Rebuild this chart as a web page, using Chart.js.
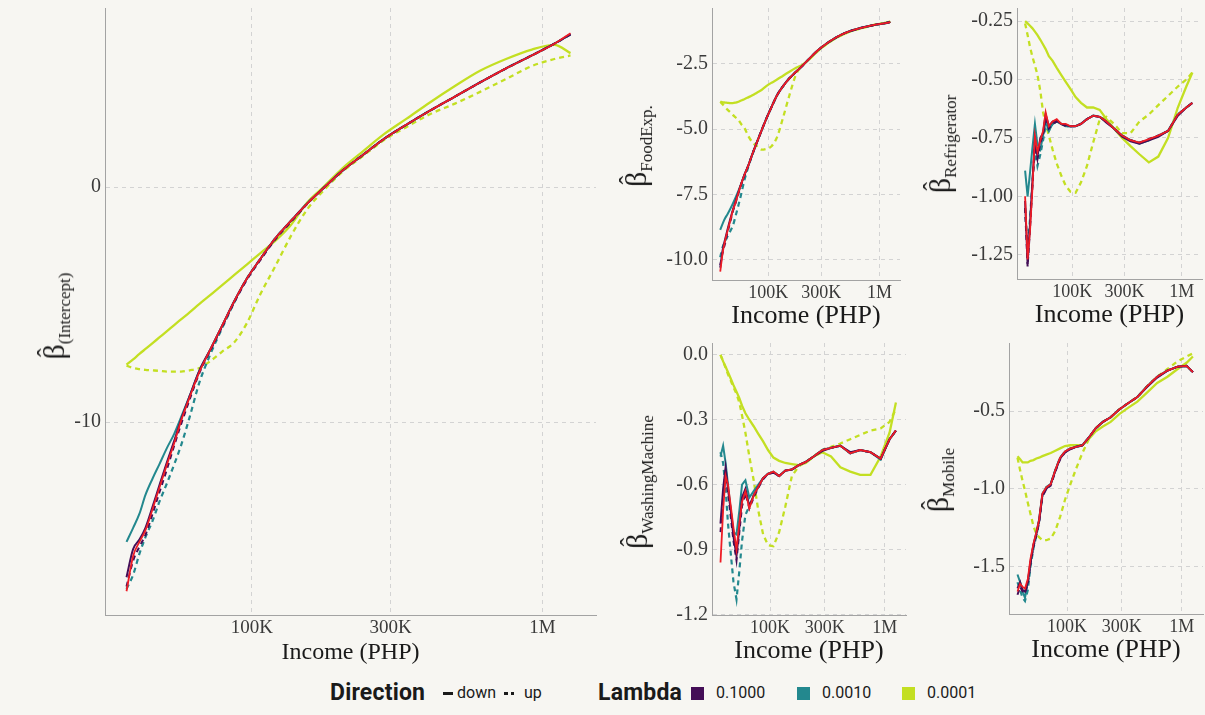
<!DOCTYPE html>
<html><head><meta charset="utf-8">
<script src="https://cdn.jsdelivr.net/npm/chart.js@4.4.1/dist/chart.umd.min.js"></script>
<style>
html,body{margin:0;padding:0;background:#f7f6f2;}
#wrap{position:relative;width:1205px;height:715px;overflow:hidden;background:#f7f6f2;}
canvas{position:absolute;}
.yt{position:absolute;white-space:nowrap;font-family:"Liberation Serif","DejaVu Serif",serif;color:#1a1a1a;transform:translate(-50%,-50%) rotate(-90deg);line-height:1;}
.yt .b{font-size:30px;position:relative;display:inline-block;}
.yt .hat{position:absolute;left:0.1em;top:-0.2em;font-style:normal;font-size:0.85em;}
.yt sub{font-size:17px;vertical-align:-0.35em;}
.lg{position:absolute;top:681px;height:24px;line-height:24px;font-family:Roboto,"Liberation Sans",sans-serif;color:#1a1a1a;white-space:nowrap;}
.lt{font-weight:bold;font-size:23px;letter-spacing:0.2px;}
.ll{font-size:16px;}
.sq{position:absolute;top:687px;width:13px;height:13px;}
.key{position:absolute;top:692px;height:3px;}
</style>
</head><body>
<div id="wrap">
  <canvas id="cBig"></canvas>
  <canvas id="cFood"></canvas>
  <canvas id="cFridge"></canvas>
  <canvas id="cWash"></canvas>
  <canvas id="cMobile"></canvas>

  <div class="yt" style="left:56px;top:316px"><span class="b">β<i class="hat">ˆ</i></span><sub>(Intercept)</sub></div>
  <div class="yt" style="left:638px;top:146px"><span class="b">β<i class="hat">ˆ</i></span><sub>FoodExp.</sub></div>
  <div class="yt" style="left:942px;top:144px"><span class="b">β<i class="hat">ˆ</i></span><sub>Refrigerator</sub></div>
  <div class="yt" style="left:639px;top:482px"><span class="b">β<i class="hat">ˆ</i></span><sub>WashingMachine</sub></div>
  <div class="yt" style="left:940px;top:480px"><span class="b">β<i class="hat">ˆ</i></span><sub>Mobile</sub></div>

  <div class="lg lt" style="left:330px">Direction</div>
  <div class="key" style="left:443px;width:10px;background:#1a1a1a"></div>
  <div class="lg ll" id="lgDown" style="left:457px"></div>
  <div class="key" style="left:504px;width:4px;background:#1a1a1a"></div>
  <div class="key" style="left:511px;width:3px;background:#1a1a1a"></div>
  <div class="lg ll" id="lgUp" style="left:524px"></div>
  <div class="lg lt" style="left:598px">Lambda</div>
  <div class="sq" style="left:691px;background:#440e57"></div>
  <div class="lg ll" id="lgL0" style="left:716px"></div>
  <div class="sq" style="left:797px;background:#23888e"></div>
  <div class="lg ll" id="lgL1" style="left:822px"></div>
  <div class="sq" style="left:902px;background:#c3df22"></div>
  <div class="lg ll" id="lgL2" style="left:927px"></div>
</div>
<script>
// ---------- shared data ----------
const income = [37000, 39000, 41000, 43000, 45500, 48000, 51000, 54000, 57000, 61000, 66000, 72000, 79000, 87000, 96000, 107000, 120000, 136000, 155000, 178000, 205000, 240000, 285000, 340000, 410000, 500000, 610000, 750000, 920000, 1100000, 1250000];
const xTickValues = [100000, 300000, 1000000];
const xTickLabels = ['100K', '300K', '1M'];
const lambdaLabels = ['0.1000', '0.0010', '0.0001'];
const directionLabels = ['down', 'up'];

// ---------- (Intercept) ----------
const interceptYTicks = [0, -10];
const interceptYLabels = ['0', '-10'];
const interceptRed = [-17.2, -15.7, -15.1, -14.6, -13.7, -12.8, -11.8, -10.9, -9.95, -8.95, -7.85, -6.9, -5.9, -4.85, -3.9, -3.05, -2.2, -1.45, -0.7, 0.0, 0.7, 1.35, 2.05, 2.65, 3.25, 3.85, 4.45, 5.05, 5.6, 6.1, 6.55];
const interceptL1Down = [-16.6, -15.4, -15.0, -14.5, -13.6, -12.7, -11.7, -10.8, -9.9, -8.9, -7.8, -6.9, -5.9, -4.85, -3.9, -3.05, -2.2, -1.45, -0.7, 0.0, 0.7, 1.35, 2.05, 2.65, 3.25, 3.85, 4.45, 5.05, 5.6, 6.1, 6.5];
const interceptL1Up = [-17.0, -15.9, -15.3, -14.8, -13.9, -13.0, -12.0, -11.0, -10.1, -9.05, -7.9, -6.95, -5.95, -4.9, -3.95, -3.1, -2.25, -1.5, -0.72, 0.0, 0.7, 1.35, 2.05, 2.65, 3.25, 3.85, 4.45, 5.05, 5.6, 6.1, 6.5];
const interceptL2Down = [-15.1, -14.5, -13.9, -13.1, -12.4, -11.8, -11.1, -10.5, -9.8, -8.9, -7.8, -6.9, -5.9, -4.85, -3.9, -3.05, -2.2, -1.45, -0.7, 0.0, 0.7, 1.35, 2.05, 2.65, 3.25, 3.85, 4.45, 5.05, 5.6, 6.1, 6.5];
const interceptL2Up = [-17.1, -16.5, -15.6, -14.9, -14.2, -13.4, -12.6, -11.8, -11.0, -9.8, -8.3, -7.1, -6.0, -4.9, -3.9, -3.05, -2.2, -1.45, -0.7, 0.0, 0.7, 1.35, 2.05, 2.65, 3.25, 3.85, 4.45, 5.05, 5.6, 6.1, 6.5];
const interceptL3Down = [-7.56, -7.33, -7.1, -6.89, -6.64, -6.4, -6.13, -5.87, -5.63, -5.33, -4.97, -4.59, -4.17, -3.74, -3.3, -2.81, -2.3, -1.62, -0.66, 0.05, 0.8, 1.5, 2.25, 2.9, 3.6, 4.3, 4.95, 5.45, 5.85, 6.05, 5.7];
const interceptL3Up = [-7.6, -7.7, -7.75, -7.78, -7.8, -7.82, -7.85, -7.85, -7.85, -7.8, -7.7, -7.4, -7.0, -6.6, -5.8, -4.55, -3.4, -2.1, -0.95, -0.1, 0.65, 1.3, 2.0, 2.55, 3.1, 3.55, 4.05, 4.6, 5.15, 5.45, 5.6];

// ---------- FoodExp ----------
const foodYTicks = [-2.5, -5.0, -7.5, -10.0];
const foodYLabels = ['-2.5', '-5.0', '-7.5', '-10.0'];
const foodRed = [-10.45, -9.7, -9.25, -8.9, -8.5, -8.12, -7.78, -7.42, -7.1, -6.75, -6.4, -5.95, -5.5, -5.05, -4.6, -4.15, -3.7, -3.35, -3.05, -2.8, -2.55, -2.25, -1.95, -1.7, -1.48, -1.3, -1.18, -1.08, -1.0, -0.95, -0.9];
const foodL1Down = [-10.3, -9.6, -9.2, -8.85, -8.45, -8.1, -7.75, -7.4, -7.1, -6.75, -6.4, -5.95, -5.5, -5.05, -4.6, -4.15, -3.7, -3.35, -3.05, -2.8, -2.55, -2.25, -1.95, -1.7, -1.48, -1.3, -1.18, -1.08, -1.0, -0.95, -0.9];
const foodL1Up = [-10.2, -9.7, -9.35, -8.95, -8.55, -8.15, -7.8, -7.45, -7.12, -6.78, -6.4, -5.95, -5.5, -5.05, -4.6, -4.15, -3.7, -3.35, -3.05, -2.8, -2.55, -2.25, -1.95, -1.7, -1.48, -1.3, -1.18, -1.08, -1.0, -0.95, -0.9];
const foodL2Down = [-8.85, -8.6, -8.4, -8.25, -8.05, -7.85, -7.6, -7.35, -7.1, -6.75, -6.4, -5.95, -5.5, -5.05, -4.6, -4.15, -3.7, -3.35, -3.05, -2.8, -2.55, -2.25, -1.95, -1.7, -1.48, -1.3, -1.18, -1.08, -1.0, -0.95, -0.9];
const foodL2Up = [-9.9, -9.5, -9.3, -9.1, -8.9, -8.7, -8.3, -7.9, -7.5, -6.95, -6.45, -5.97, -5.5, -5.05, -4.6, -4.15, -3.7, -3.35, -3.05, -2.8, -2.55, -2.25, -1.95, -1.7, -1.48, -1.3, -1.18, -1.08, -1.0, -0.95, -0.9];
const foodL3Down = [-3.95, -3.97, -3.98, -3.99, -4.0, -4.0, -3.98, -3.95, -3.9, -3.85, -3.78, -3.7, -3.6, -3.5, -3.35, -3.22, -3.1, -2.95, -2.8, -2.65, -2.52, -2.28, -1.97, -1.72, -1.5, -1.32, -1.19, -1.09, -1.0, -0.94, -0.88];
const foodL3Up = [-3.95, -4.05, -4.15, -4.25, -4.35, -4.45, -4.55, -4.65, -4.8, -4.95, -5.25, -5.5, -5.65, -5.78, -5.75, -5.65, -5.3, -4.55, -3.7, -2.9, -2.55, -2.28, -1.97, -1.72, -1.5, -1.32, -1.19, -1.09, -1.0, -0.94, -0.88];

// ---------- Refrigerator ----------
const fridgeYTicks = [-0.25, -0.5, -0.75, -1.0, -1.25];
const fridgeYLabels = ['-0.25', '-0.50', '-0.75', '-1.00', '-1.25'];
const fridgeRed = [-1.0, -1.27, -1.15, -0.98, -0.74, -0.81, -0.76, -0.72, -0.64, -0.70, -0.68, -0.67, -0.69, -0.69, -0.70, -0.70, -0.69, -0.67, -0.655, -0.66, -0.68, -0.71, -0.74, -0.76, -0.77, -0.755, -0.74, -0.72, -0.65, -0.62, -0.60];
const fridgeL1Down = [-1.02, -1.29, -1.12, -0.95, -0.76, -0.83, -0.75, -0.73, -0.65, -0.70, -0.68, -0.675, -0.69, -0.695, -0.70, -0.70, -0.69, -0.67, -0.655, -0.66, -0.685, -0.71, -0.745, -0.765, -0.775, -0.76, -0.745, -0.72, -0.655, -0.62, -0.60];
const fridgeL1Up = [-1.05, -1.3, -1.14, -0.97, -0.77, -0.84, -0.77, -0.74, -0.66, -0.71, -0.69, -0.68, -0.69, -0.70, -0.70, -0.70, -0.69, -0.67, -0.655, -0.66, -0.68, -0.71, -0.74, -0.76, -0.77, -0.755, -0.74, -0.72, -0.65, -0.62, -0.60];
const fridgeL2Down = [-0.89, -1.0, -0.9, -0.8, -0.69, -0.78, -0.80, -0.74, -0.68, -0.72, -0.69, -0.68, -0.69, -0.70, -0.70, -0.70, -0.69, -0.67, -0.655, -0.66, -0.68, -0.71, -0.74, -0.76, -0.775, -0.76, -0.74, -0.72, -0.65, -0.62, -0.60];
const fridgeL2Up = [-1.05, -1.22, -1.1, -0.95, -0.80, -0.87, -0.82, -0.76, -0.70, -0.72, -0.69, -0.68, -0.69, -0.70, -0.70, -0.70, -0.69, -0.67, -0.655, -0.66, -0.68, -0.71, -0.74, -0.76, -0.77, -0.76, -0.74, -0.72, -0.65, -0.62, -0.60];
const fridgeL3Down = [-0.25, -0.26, -0.27, -0.28, -0.295, -0.31, -0.33, -0.35, -0.37, -0.40, -0.42, -0.45, -0.48, -0.51, -0.54, -0.575, -0.60, -0.62, -0.62, -0.63, -0.67, -0.71, -0.75, -0.785, -0.82, -0.855, -0.83, -0.75, -0.62, -0.53, -0.47];
const fridgeL3Up = [-0.26, -0.31, -0.36, -0.40, -0.44, -0.48, -0.55, -0.64, -0.69, -0.74, -0.80, -0.86, -0.91, -0.955, -0.98, -0.985, -0.94, -0.87, -0.77, -0.67, -0.66, -0.69, -0.73, -0.73, -0.68, -0.65, -0.61, -0.57, -0.53, -0.50, -0.47];

// ---------- WashingMachine ----------
const washYTicks = [0.0, -0.3, -0.6, -0.9, -1.2];
const washYLabels = ['0.0', '-0.3', '-0.6', '-0.9', '-1.2'];
const washRed = [-0.96, -0.72, -0.56, -0.6, -0.7, -0.80, -0.9, -0.78, -0.68, -0.63, -0.71, -0.65, -0.61, -0.57, -0.55, -0.54, -0.56, -0.535, -0.53, -0.51, -0.495, -0.47, -0.44, -0.43, -0.42, -0.455, -0.44, -0.45, -0.48, -0.39, -0.35];
const washL1Down = [-0.78, -0.62, -0.52, -0.62, -0.72, -0.84, -0.93, -0.80, -0.66, -0.62, -0.70, -0.65, -0.61, -0.57, -0.55, -0.545, -0.56, -0.535, -0.53, -0.51, -0.495, -0.47, -0.445, -0.43, -0.42, -0.45, -0.44, -0.45, -0.48, -0.39, -0.35];
const washL1Up = [-0.82, -0.66, -0.55, -0.64, -0.75, -0.86, -0.95, -0.82, -0.7, -0.64, -0.71, -0.66, -0.615, -0.575, -0.55, -0.545, -0.56, -0.535, -0.53, -0.51, -0.495, -0.47, -0.44, -0.43, -0.42, -0.455, -0.44, -0.45, -0.48, -0.39, -0.35];
const washL2Down = [-0.47, -0.42, -0.5, -0.6, -0.72, -0.82, -0.83, -0.72, -0.6, -0.58, -0.66, -0.63, -0.6, -0.57, -0.55, -0.54, -0.56, -0.535, -0.53, -0.51, -0.495, -0.47, -0.44, -0.43, -0.42, -0.455, -0.44, -0.45, -0.485, -0.39, -0.35];
const washL2Up = [-0.45, -0.5, -0.62, -0.78, -0.92, -1.05, -1.13, -1.0, -0.86, -0.74, -0.70, -0.65, -0.61, -0.57, -0.55, -0.54, -0.56, -0.535, -0.53, -0.51, -0.495, -0.47, -0.44, -0.43, -0.42, -0.455, -0.44, -0.45, -0.48, -0.39, -0.35];
const washL3Down = [0.0, -0.03, -0.055, -0.08, -0.11, -0.14, -0.17, -0.2, -0.235, -0.27, -0.3, -0.33, -0.365, -0.40, -0.44, -0.475, -0.49, -0.50, -0.505, -0.51, -0.50, -0.47, -0.45, -0.47, -0.52, -0.54, -0.555, -0.555, -0.47, -0.36, -0.22];
const washL3Up = [0.0, -0.03, -0.06, -0.09, -0.12, -0.15, -0.18, -0.22, -0.28, -0.36, -0.47, -0.58, -0.72, -0.83, -0.88, -0.885, -0.82, -0.70, -0.56, -0.515, -0.495, -0.47, -0.44, -0.425, -0.41, -0.39, -0.37, -0.35, -0.34, -0.31, -0.25];

// ---------- Mobile ----------
const mobileYTicks = [-0.5, -1.0, -1.5];
const mobileYLabels = ['-0.5', '-1.0', '-1.5'];
const mobileRed = [-1.66, -1.61, -1.63, -1.64, -1.58, -1.45, -1.35, -1.28, -1.2, -1.03, -0.99, -0.97, -0.88, -0.8, -0.76, -0.74, -0.73, -0.72, -0.67, -0.61, -0.57, -0.54, -0.49, -0.45, -0.41, -0.34, -0.28, -0.24, -0.215, -0.21, -0.25];
const mobileL1Down = [-1.64, -1.6, -1.65, -1.66, -1.6, -1.47, -1.36, -1.29, -1.21, -1.04, -1.0, -0.97, -0.885, -0.805, -0.765, -0.745, -0.73, -0.72, -0.67, -0.61, -0.57, -0.54, -0.49, -0.45, -0.41, -0.345, -0.285, -0.24, -0.215, -0.21, -0.25];
const mobileL1Up = [-1.68, -1.63, -1.66, -1.67, -1.61, -1.48, -1.37, -1.3, -1.22, -1.05, -1.0, -0.98, -0.89, -0.81, -0.765, -0.745, -0.73, -0.72, -0.67, -0.61, -0.57, -0.54, -0.49, -0.45, -0.41, -0.34, -0.28, -0.24, -0.215, -0.21, -0.25];
const mobileL2Down = [-1.55, -1.6, -1.66, -1.7, -1.6, -1.48, -1.36, -1.28, -1.2, -1.03, -0.99, -0.97, -0.88, -0.8, -0.76, -0.74, -0.73, -0.72, -0.67, -0.61, -0.57, -0.54, -0.49, -0.45, -0.41, -0.34, -0.28, -0.24, -0.215, -0.21, -0.25];
const mobileL2Up = [-1.6, -1.65, -1.7, -1.72, -1.65, -1.5, -1.38, -1.3, -1.21, -1.04, -0.99, -0.97, -0.88, -0.8, -0.76, -0.74, -0.73, -0.72, -0.67, -0.61, -0.57, -0.54, -0.49, -0.45, -0.41, -0.34, -0.28, -0.24, -0.215, -0.21, -0.25];
const mobileL3Down = [-0.79, -0.81, -0.83, -0.83, -0.83, -0.82, -0.815, -0.805, -0.8, -0.79, -0.78, -0.77, -0.755, -0.74, -0.725, -0.72, -0.72, -0.72, -0.68, -0.63, -0.6, -0.57, -0.52, -0.48, -0.44, -0.38, -0.32, -0.28, -0.23, -0.19, -0.15];
const mobileL3Up = [-0.80, -0.88, -0.95, -1.01, -1.09, -1.16, -1.24, -1.29, -1.31, -1.33, -1.33, -1.32, -1.27, -1.18, -1.07, -0.97, -0.87, -0.77, -0.68, -0.61, -0.57, -0.54, -0.49, -0.45, -0.41, -0.34, -0.28, -0.23, -0.18, -0.15, -0.13];

// ---------- styling & building ----------
const SERIF = '"Liberation Serif","DejaVu Serif",serif';
const COL = {red: '#ee1c25', l1: '#440e57', l2: '#23888e', l3: '#c3df22'};
const X_MIN = 31200, X_MAX = 1530000;

document.getElementById('lgDown').textContent = directionLabels[0];
document.getElementById('lgUp').textContent = directionLabels[1];
document.getElementById('lgL0').textContent = lambdaLabels[0];
document.getElementById('lgL1').textContent = lambdaLabels[1];
document.getElementById('lgL2').textContent = lambdaLabels[2];

function series(arr, color, dashed, width) {
  return {
    data: income.map((x, i) => ({x: x, y: arr[i]})),
    borderColor: color, backgroundColor: color,
    borderWidth: width || 2, borderDash: dashed ? [5, 4] : [],
    pointRadius: 0, fill: false
  };
}

function panel(id, g, yMin, yMax, yTicks, yLabels, arrs, smooth) {
  const padTop = 6, xH = 52, padR = g.padR;
  const cv = document.getElementById(id);
  const W = g.yW + (g.r - g.l) + padR;
  const H = padTop + (g.b - g.t) + xH;
  cv.width = W; cv.height = H;
  cv.style.left = (g.l - g.yW) + 'px';
  cv.style.top = (g.t - padTop) + 'px';
  cv.style.width = W + 'px'; cv.style.height = H + 'px';
  const ds = [
    series(arrs[0], COL.red, false, 1.8),
    series(arrs[1], COL.l1, false, 2),
    series(arrs[2], COL.l1, true, 2),
    series(arrs[3], COL.l2, false, 2),
    series(arrs[4], COL.l2, true, 2.2),
    series(arrs[5], COL.l3, false, 2.3),
    series(arrs[6], COL.l3, true, 2.3)
  ];
  ds.forEach(d => { if (smooth) d.cubicInterpolationMode = 'monotone'; });
  new Chart(cv, {
    type: 'line',
    data: {datasets: ds},
    options: {
      responsive: false, animation: false, devicePixelRatio: 1,
      layout: {padding: {top: padTop, right: padR, left: 0, bottom: 0}},
      plugins: {legend: {display: false}, tooltip: {enabled: false}},
      scales: {
        x: {
          type: 'logarithmic', min: X_MIN, max: X_MAX,
          afterBuildTicks: s => { s.ticks = xTickValues.map(v => ({value: v})); },
          afterFit: s => { s.height = xH; s.paddingLeft = 0; s.paddingRight = 0; },
          ticks: {autoSkip: false, maxRotation: 0, padding: 2, color: '#3a3a3a',
                  font: {family: SERIF, size: g.tx},
                  callback: (v, i) => xTickLabels[i]},
          grid: {color: '#d3d3d3', lineWidth: 1, drawTicks: false},
          border: {display: true, color: '#a3a3a3', width: 1, dash: [4, 4]},
          title: {display: true, text: 'Income (PHP)', color: '#1a1a1a', padding: 0,
                  font: {family: SERIF, size: g.tt}}
        },
        y: {
          type: 'linear', min: yMin, max: yMax,
          afterBuildTicks: s => { s.ticks = yTicks.map(v => ({value: v})); },
          afterFit: s => { s.width = g.yW; s.paddingTop = 0; s.paddingBottom = 0; },
          ticks: {padding: 4, color: '#3a3a3a', font: {family: SERIF, size: g.ty},
                  callback: (v, i) => yLabels[i]},
          grid: {color: '#d3d3d3', lineWidth: 1, drawTicks: false},
          border: {display: true, color: '#a3a3a3', width: 1, dash: [4, 4]}
        }
      }
    }
  });
}

panel('cBig', {l: 105, t: 8, r: 596, b: 615, yW: 105, padR: 8, tx: 19, ty: 20, tt: 24}, -18.21, 7.62,
  interceptYTicks, interceptYLabels,
  [interceptRed, interceptL1Down, interceptL1Up, interceptL2Down, interceptL2Up, interceptL3Down, interceptL3Up], true);
panel('cFood', {l: 712, t: 8, r: 900, b: 280, yW: 62, padR: 6, tx: 18, ty: 20, tt: 26}, -10.77, -0.36,
  foodYTicks, foodYLabels,
  [foodRed, foodL1Down, foodL1Up, foodL2Down, foodL2Up, foodL3Down, foodL3Up], true);
panel('cFridge', {l: 1017, t: 8, r: 1202, b: 279, yW: 62, padR: 2, tx: 18, ty: 20, tt: 26}, -1.354, -0.194,
  fridgeYTicks, fridgeYLabels,
  [fridgeRed, fridgeL1Down, fridgeL1Up, fridgeL2Down, fridgeL2Up, fridgeL3Down, fridgeL3Up], false);
panel('cWash', {l: 712, t: 343, r: 906, b: 615, yW: 62, padR: 6, tx: 18, ty: 20, tt: 26}, -1.203, 0.055,
  washYTicks, washYLabels,
  [washRed, washL1Down, washL1Up, washL2Down, washL2Up, washL3Down, washL3Up], false);
panel('cMobile', {l: 1009, t: 343, r: 1203, b: 614, yW: 62, padR: 1, tx: 18, ty: 20, tt: 26}, -1.804, -0.063,
  mobileYTicks, mobileYLabels,
  [mobileRed, mobileL1Down, mobileL1Up, mobileL2Down, mobileL2Up, mobileL3Down, mobileL3Up], false);
</script>
</body></html>
